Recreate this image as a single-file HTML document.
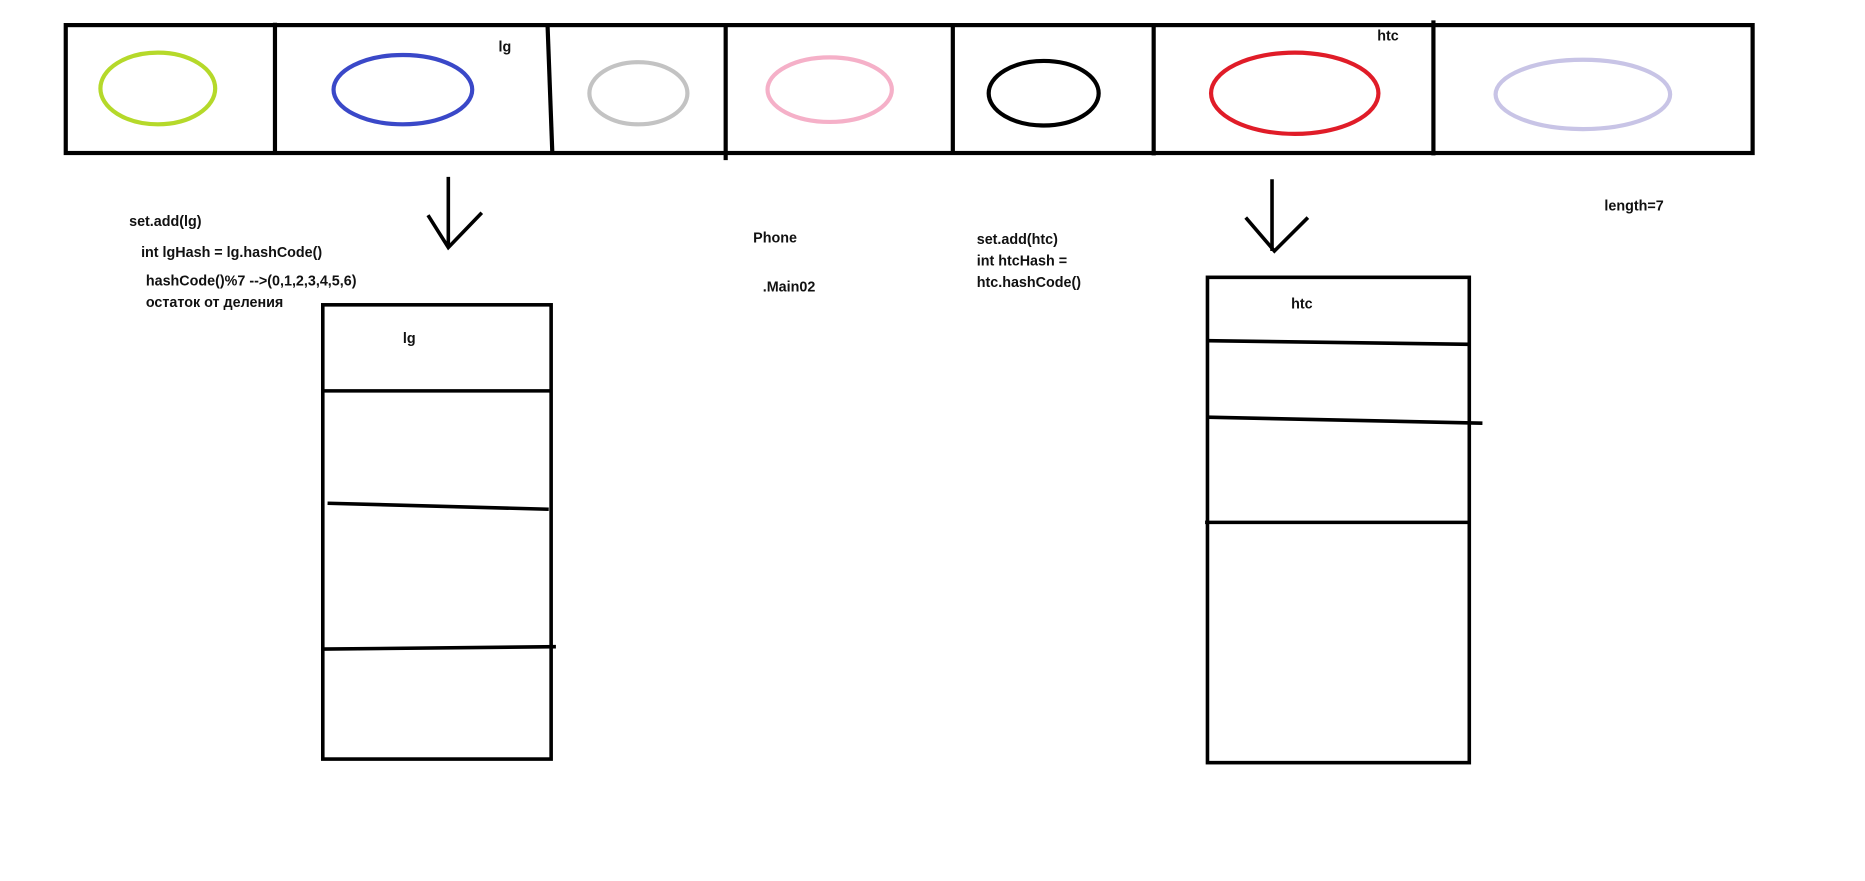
<!DOCTYPE html>
<html><head><style>html,body{margin:0;padding:0;background:#fff;overflow:hidden}svg{display:block}
text{font-family:"Liberation Sans",sans-serif;font-size:12px;font-weight:bold;fill:#111}</style></head>
<body>
<svg width="1865" height="881" viewBox="0 0 1560 737" preserveAspectRatio="none" xmlns="http://www.w3.org/2000/svg">
<g fill="none" stroke="#000" stroke-width="3.5">
<rect x="55" y="21" width="1411" height="107"/>
<line x1="230" y1="19" x2="230" y2="128"/>
<line x1="458" y1="21" x2="462" y2="128"/>
<line x1="607" y1="21" x2="607" y2="134"/>
<line x1="797" y1="21" x2="797" y2="128"/>
<line x1="965" y1="21" x2="965" y2="130"/>
<line x1="1199" y1="17" x2="1199" y2="130"/>
</g>
<g fill="none" stroke-width="3.5">
<ellipse cx="132" cy="74" rx="48" ry="30" stroke="#b5d92a"/>
<ellipse cx="337" cy="75" rx="58" ry="29" stroke="#3a48c8"/>
<ellipse cx="534" cy="78" rx="41" ry="26" stroke="#c3c3c3"/>
<ellipse cx="694" cy="75" rx="52" ry="27" stroke="#f5b0c8"/>
<ellipse cx="873" cy="78" rx="46" ry="27" stroke="#000"/>
<ellipse cx="1083" cy="78" rx="70" ry="34" stroke="#e01c28"/>
<ellipse cx="1324" cy="79" rx="73" ry="29" stroke="#c8c4e6"/>
</g>
<g fill="none" stroke="#000" stroke-width="3">
<line x1="375" y1="148" x2="375" y2="207"/>
<polyline points="358,180 375,207 403,178"/>
<line x1="1064" y1="150" x2="1064" y2="210"/>
<polyline points="1042,182 1066,210 1094,182"/>
<rect x="270" y="255" width="191" height="380"/>
<line x1="270" y1="327" x2="461" y2="327"/>
<line x1="274" y1="421" x2="459" y2="426"/>
<line x1="270" y1="543" x2="465" y2="541"/>
<rect x="1010" y="232" width="219" height="406"/>
<line x1="1010" y1="285" x2="1229" y2="288"/>
<line x1="1010" y1="349" x2="1240" y2="354"/>
<line x1="1008" y1="437" x2="1229" y2="437"/>
</g>
<text x="417" y="43">lg</text>
<text x="1152" y="34">htc</text>
<text x="337" y="287">lg</text>
<text x="1080" y="258">htc</text>
<text x="108" y="189">set.add(lg)</text>
<text x="118" y="215">int lgHash = lg.hashCode()</text>
<text x="122" y="239">hashCode()%7 --&gt;(0,1,2,3,4,5,6)</text>
<text x="122" y="257">остаток от деления</text>
<text x="630" y="203">Phone</text>
<text x="638" y="244">.Main02</text>
<text x="817" y="204">set.add(htc)</text>
<text x="817" y="222">int htcHash =</text>
<text x="817" y="240">htc.hashCode()</text>
<text x="1342" y="176">length=7</text>
</svg>
</body></html>
